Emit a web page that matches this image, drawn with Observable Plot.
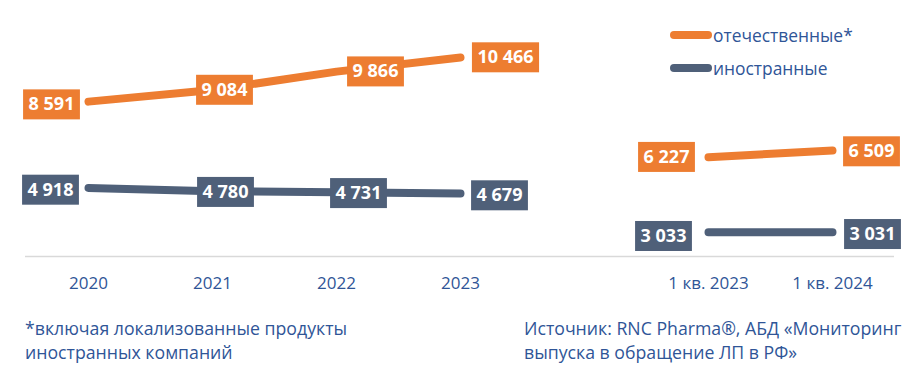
<!DOCTYPE html>
<html><head><meta charset="utf-8">
<script src="https://cdn.jsdelivr.net/npm/d3@7"></script>
<script src="https://cdn.jsdelivr.net/npm/@observablehq/plot@0.6"></script>
<style>
body{margin:0;background:#fff;font-family:"Open Sans",sans-serif;}
#wrap{position:relative;width:906px;height:387px;overflow:hidden;}
.note{position:absolute;color:#2F5597;font-size:17.7px;line-height:24px;white-space:nowrap;}
.leg{position:absolute;left:670px;height:20px;display:flex;align-items:center;color:#2F5597;font-size:17.4px;white-space:nowrap;}
.leg i{display:inline-block;width:42px;height:8px;border-radius:4px;margin-right:1px;}
</style></head><body><div id="wrap"></div>
<script>
// ---- data ----
const periods = ["2020", "2021", "2022", "2023", "1 кв. 2023", "1 кв. 2024"];
const domestic = [8591, 9084, 9866, 10466, 6227, 6509];
const foreign = [4918, 4780, 4731, 4679, 3033, 3031];
const segments = ["years", "years", "years", "years", "quarters", "quarters"];
const seriesNames = ["отечественные*", "иностранные"];
const xDomain = ["2020", "2021", "2022", "2023", "", "1 кв. 2023", "1 кв. 2024"];
const footLeft = ["*включая локализованные продукты", "иностранных компаний"];
const footRight = ["Источник: RNC Pharma®, АБД «Мониторинг", "выпуска в обращение ЛП в РФ»"];

// ---- styling ----
const colors = ["#ED7D31", "#4F6079"];
const labelDx = [[-37, 12, 39, 45, -42, 39], [-38, 13, 22, 39, -45, 40]];
const labelDy = [[3, 0, 0, 0, 0, 1], [2, 1, 1, 2, 4, 2]];

const rows = [];
periods.forEach((p, i) => {
  rows.push({period: p, value: domestic[i], s: 0, series: seriesNames[0], seg: segments[i], i});
  rows.push({period: p, value: foreign[i], s: 1, series: seriesNames[1], seg: segments[i], i});
});
const fmt = v => d3.format(",")(v).replace(/,/g, " ");

const labelMarks = rows.map(r => Plot.text([r], {
  x: "period", y: "value", text: d => fmt(d.value),
  fill: "white", fontWeight: "bold", fontSize: 18,
  dx: labelDx[r.s][r.i], dy: labelDy[r.s][r.i],
  ariaDescription: "lbl-" + r.s
}));

const chart = Plot.plot({
  width: 906, height: 300,
  marginLeft: 25, marginRight: 12, marginTop: 21, marginBottom: 44,
  style: {fontFamily: "Open Sans", color: "#2F5597", background: "white"},
  x: {type: "point", domain: xDomain, padding: 0.5, label: null},
  y: {domain: [2000, 12000], axis: null},
  color: {domain: seriesNames, range: colors},
  marks: [
    Plot.ruleY([2000], {stroke: "#D9D9D9", strokeWidth: 1.3}),
    Plot.axisX({tickSize: 0, tickPadding: 20, fontSize: 17, label: null}),
    Plot.line(rows, {x: "period", y: "value", z: d => d.series + d.seg, stroke: "series",
      strokeWidth: 8, strokeLinecap: "round", strokeLinejoin: "round"}),
    ...labelMarks
  ]
});
const wrap = document.getElementById("wrap");
wrap.appendChild(chart);

// draw label boxes behind the label texts
chart.querySelectorAll('g[aria-description^="lbl-"]').forEach(g => {
  const s = +g.getAttribute("aria-description").split("-")[1];
  g.querySelectorAll("text").forEach(t => {
    const b = t.getBBox();
    const tr = t.getAttribute("transform");
    const rect = document.createElementNS("http://www.w3.org/2000/svg", "rect");
    const w = b.width + 11, h = 30;
    rect.setAttribute("x", b.x + b.width / 2 - w / 2);
    rect.setAttribute("y", b.y + b.height / 2 - h / 2 + 1);
    rect.setAttribute("width", w);
    rect.setAttribute("height", h);
    rect.setAttribute("fill", colors[s]);
    if (tr) rect.setAttribute("transform", tr);
    t.parentNode.insertBefore(rect, t);
  });
});

// legend
seriesNames.forEach((n, k) => {
  const d = document.createElement("div");
  d.className = "leg";
  d.style.top = (25 + k * 33) + "px";
  d.innerHTML = `<i style="background:${colors[k]}"></i><span>${n}</span>`;
  wrap.appendChild(d);
});
// footnotes
const fl = document.createElement("div");
fl.className = "note"; fl.style.left = "25px"; fl.style.top = "316px";
fl.innerHTML = footLeft.join("<br>");
wrap.appendChild(fl);
const fr = document.createElement("div");
fr.className = "note"; fr.style.left = "524px"; fr.style.top = "316px";
fr.innerHTML = footRight.join("<br>");
wrap.appendChild(fr);
</script></body></html>
